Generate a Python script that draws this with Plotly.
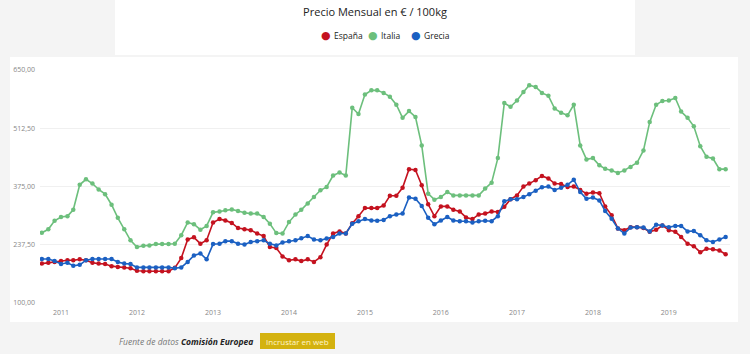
import pandas as pd
import plotly.graph_objects as go

# ---------------- data ----------------
months = pd.date_range("2010-10-01", periods=109, freq="MS")

espana = [193,195,197,199,201,201,203,201,195,193,192,187,185,184,182,176,175,
          175,175,175,175,183,206,250,255,240,248,290,298,295,289,277,274,272,264,258,
          232,230,210,201,203,199,203,197,208,238,264,269,264,288,305,324,324,324,330,353,353,
          372,416,414,378,333,305,328,328,320,316,302,298,309,311,316,315,327,345,354,375,
          382,390,400,394,382,381,374,375,367,358,361,359,328,307,276,272,279,279,277,268,
          273,283,272,268,256,240,234,220,228,227,224,215]

italia = [266,274,294,303,305,320,379,392,382,368,357,332,301,274,248,232,235,236,239,239,
          239,240,260,290,286,273,282,314,316,319,321,317,313,311,311,303,287,265,264,291,
          309,320,335,350,366,374,401,408,401,561,546,592,602,602,596,587,568,
          537,553,539,472,358,344,350,362,354,354,354,354,354,370,384,442,572,563,578,598,
          614,610,596,589,559,549,543,568,472,439,442,425,417,413,407,413,421,431,460,527,
          568,577,578,584,552,537,517,470,445,441,416,416]

grecia = [204,204,199,192,195,188,190,201,204,204,204,204,197,193,192,184,184,
          184,184,184,184,182,184,197,212,217,203,239,240,246,246,240,238,244,246,248,
          240,236,243,246,248,253,258,250,248,252,256,264,264,287,293,298,295,294,296,305,309,
          311,349,346,329,301,286,295,303,295,293,293,290,293,294,293,305,340,345,345,350,
          357,365,373,375,367,372,379,391,362,346,349,342,317,299,276,264,278,279,278,269,
          285,283,279,282,282,269,270,260,248,244,250,256]

series_names = ["España", "Italia", "Grecia"]
series_values = [espana, italia, grecia]
series_colors = ["#c4121f", "#6cbf7c", "#1b60c2"]

y_tickvals = [100, 237.5, 375, 512.5, 650]
y_ticktext = ["100,00", "237,50", "375,00", "512,50", "650,00"]
x_tickvals = pd.date_range("2011-01-01", periods=9, freq="YS")
x_ticktext = [str(d.year) for d in x_tickvals]

# ---------------- layout geometry (pixels) ----------------
W, H = 750, 354
ML, MR, MT, MB = 40, 20, 70, 51
PW, PH = W - ML - MR, H - MT - MB


def px_x(x):
    return (x - ML) / PW


def px_y(y):
    return 1 - (y - MT) / PH


fig = go.Figure()

# data traces: Italia first, then España, Grecia on top
for idx in [1, 0, 2]:
    fig.add_trace(go.Scatter(
        x=months, y=series_values[idx], mode="lines+markers",
        name=series_names[idx], showlegend=False,
        line=dict(color=series_colors[idx], width=1.6),
        marker=dict(color=series_colors[idx], size=4.5),
    ))

shapes = [
    # title card
    dict(type="rect", xref="paper", yref="paper", layer="below",
         x0=px_x(115), x1=px_x(635), y0=px_y(55), y1=px_y(0),
         fillcolor="white", line=dict(width=0)),
    # chart card
    dict(type="rect", xref="paper", yref="paper", layer="below",
         x0=px_x(10), x1=px_x(738), y0=px_y(322), y1=px_y(57),
         fillcolor="white", line=dict(width=0)),
    # button
    dict(type="rect", xref="paper", yref="paper", layer="below",
         x0=px_x(260), x1=px_x(335), y0=px_y(349), y1=px_y(333),
         fillcolor="#d4b20f", line=dict(width=0)),
]

annotations = [
    dict(xref="paper", yref="paper", x=px_x(117), y=px_y(341), xanchor="left",
         yanchor="middle", showarrow=False,
         text="<i><span style='color:#777'>Fuente de datos</span></i> "
              "<b><i><span style='color:#222'>Comisión Europea</span></i></b>",
         font=dict(family="Open Sans", size=8.5)),
    dict(xref="paper", yref="paper", x=px_x(297.5), y=px_y(341), xanchor="center",
         yanchor="middle", showarrow=False, text="Incrustar en web",
         font=dict(family="Open Sans", size=8, color="#fff6cc")),
]

# legend built as text items (dot + name)
legend_dot_x = [326, 373, 416]
for name, col, dx in zip(series_names, series_colors, legend_dot_x):
    annotations.append(dict(xref="paper", yref="paper", x=px_x(dx), y=px_y(35.5),
                            xanchor="center", yanchor="middle", showarrow=False,
                            text="●", font=dict(family="DejaVu Sans", size=11, color=col)))
    annotations.append(dict(xref="paper", yref="paper", x=px_x(dx + 6), y=px_y(35.5),
                            xanchor="left", yanchor="middle", showarrow=False,
                            text=name, font=dict(family="Open Sans", size=8.5, color="#222")))

fig.update_layout(
    width=W, height=H,
    margin=dict(l=ML, r=MR, t=MT, b=MB, pad=0),
    paper_bgcolor="#f4f4f4",
    plot_bgcolor="rgba(0,0,0,0)",
    showlegend=False,
    title=dict(text="Precio Mensual en € / 100kg", x=0.5, xanchor="center",
               y=1 - 12 / H, yanchor="middle", yref="container",
               font=dict(family="Open Sans", size=11, color="#222")),
    shapes=shapes,
    annotations=annotations,
    hovermode=False,
    xaxis=dict(type="date", range=["2010-09-22", "2019-10-22"],
               tickvals=x_tickvals, ticktext=x_ticktext, showgrid=False,
               zeroline=False, showline=False, ticks="", ticklabelstandoff=4,
               tickfont=dict(family="Open Sans", size=7, color="#888")),
    yaxis=dict(range=[100, 650], tickvals=y_tickvals, ticktext=y_ticktext,
               showgrid=True, gridcolor="#f0f0f0", gridwidth=1, zeroline=False,
               showline=False, ticks="", ticklabelstandoff=4,
               tickfont=dict(family="Open Sans", size=7, color="#888")),
)

fig.write_html("out.html")
